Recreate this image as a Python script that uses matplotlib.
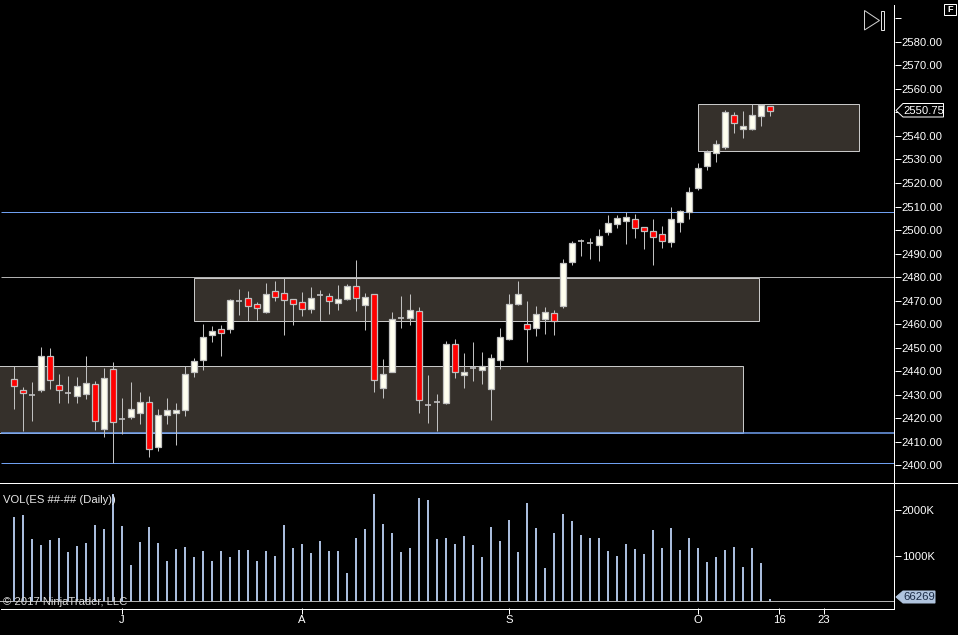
import matplotlib
matplotlib.use("Agg")
import matplotlib.pyplot as plt
from matplotlib.patches import Rectangle, Polygon

plt.rcParams['font.family'] = ['Liberation Sans', 'DejaVu Sans']

# high, body top, body bottom, low; direction: R down, W up, D doji
high = [2442,2433.25,2435.25,2450.25,2449.75,2438.75,2437.75,2437.5,2446.5,2435.75,2441.25,2443.75,2428.5,2435.25,2431,2429.5,2423.75,2428.5,2426.5,2442,2445.5,2460,2459,2459.5,2470.5,2475,2474,2469.5,2477.5,2478.25,2479.5,2470.5,2473.5,2475.75,2474.5,2473.25,2476.5,2477,2487.25,2473.25,2472.75,2445,2465,2472,2472.75,2467.25,2438.25,2430.25,2452.75,2453.5,2447.75,2452.25,2448,2447.25,2458.25,2472.75,2478.25,2469.75,2467.75,2467.25,2466,2487.75,2495.25,2496.25,2496.5,2500.5,2506.5,2506.5,2507.75,2506.75,2501.25,2504.75,2501.75,2509.75,2508.5,2518.25,2528.5,2534,2538.25,2551,2550.25,2550.5,2553.5,2553.5,2552.75]
body_top = [2436.75,2432,2429.75,2446.25,2446.25,2434.25,2430.5,2433.5,2435,2434.5,2437,2440.75,2419.5,2423.75,2426.75,2426.75,2421.25,2423.5,2423.5,2438.75,2444.25,2454.5,2457,2458,2470.25,2469.75,2471,2468.5,2472.75,2474,2473.25,2470.5,2469.5,2471,2472.25,2472,2470.5,2476.25,2476.25,2471.5,2472.75,2438.75,2462,2462.5,2466,2465.5,2425.5,2426.75,2451.5,2451.5,2439.5,2441.25,2442,2445.5,2454.5,2468.5,2472.75,2460,2464.25,2465,2464.75,2486,2494.5,2495.25,2494.5,2497.5,2503,2505,2505.5,2504.75,2501.25,2499.5,2498.25,2504.75,2508,2516.25,2526.5,2533.25,2536.5,2550.25,2549,2544.25,2549,2553.25,2552.75]
body_bottom = [2433.75,2430.5,2429.75,2432,2436,2432,2430.5,2429.5,2430.25,2418.75,2415.25,2418.25,2419.5,2420.5,2422,2406.75,2407.75,2421.25,2422,2423.5,2439.5,2444.75,2455.25,2456.25,2458,2469.75,2467.75,2466.75,2465,2471.5,2470.25,2468.5,2466.5,2466.5,2472.25,2469.75,2469,2470.5,2471,2468,2436.25,2432.75,2439.5,2462.5,2462.5,2427.75,2425.5,2426.75,2426.5,2439.5,2438.25,2441.25,2440.5,2432.25,2444.75,2453.5,2468.5,2458,2458.25,2462,2461.25,2467.75,2486.5,2495.25,2494.5,2493.5,2499,2502.5,2503.75,2501,2499.5,2497,2495.25,2495,2503.5,2507.75,2518,2527.25,2532.75,2535.25,2545.5,2543,2543,2548.5,2550.75]
low = [2423.75,2414.5,2418.75,2431,2432.25,2426.5,2426.5,2426.5,2428,2415,2412,2400.75,2413.25,2419.5,2417.5,2403.5,2406,2417.5,2408.5,2421,2437.5,2440.5,2452.25,2446.5,2456.25,2463.75,2461.25,2461.75,2464.75,2469.75,2455.25,2459.5,2463.5,2464.75,2461.25,2464.25,2466,2470.25,2465.5,2457.5,2431,2428.5,2439.5,2458.25,2459.5,2422,2418,2414.5,2426,2437,2432.75,2435.75,2434.5,2419,2441,2453.25,2468,2443.75,2455,2455.75,2455.25,2466.75,2485,2489,2487.75,2486.75,2498,2501,2494,2496.5,2492,2485,2492.25,2492.75,2499,2504.75,2517,2525.5,2529,2534.5,2541.25,2539,2542.5,2544.25,2548.5]
direction = list("RRDWRRDWWRWRDWWRWWWWWWWRWDRRWRRRRWDRWWRWRWWDWRDDWRWDWWWWWRWWRWWDDWWWWRRRRWWWWWWWRWWWR")
volume_k = [1841,1884,1362,1232,1341,1384,1080,1210,1275,1667,1580,2341,1645,797,1297,1623,1275,884,1145,1188,971,1101,884,1101,971,1123,1123,884,1101,993,1667,1167,1254,1058,1319,1101,1101,623,1384,1580,2341,1688,1493,1080,1167,2254,2210,1362,1384,1254,1428,1232,971,1623,1319,1775,1080,2145,1601,732,1493,1906,1754,1449,1384,1384,1101,993,1254,1145,1036,1558,1167,1601,1123,1384,1167,862,971,1123,1188,754,1167,841,66.269]

price_ticks = list(range(2400, 2600, 10))
hidden_price_labels = [2550, 2590]
volume_ticks = [1000, 2000]
date_tick_pos = [12, 32, 55, 76, 85, 90]
date_tick_labels = ['J', 'A', 'S', 'O', '16', '23']

blue_levels = [2507.66, 2413.75, 2400.75]
grey_levels = [2480]
# zones: first bar, last bar, low price, high price
zones = [(-3, 81, 2413.75, 2442.25), (20, 82.8, 2461.25, 2479.75), (76, 93.9, 2533.75, 2553.5)]

W, H = 958, 635
FONT = 8.1
PX = 0.72
bars = range(len(high))
fig = plt.figure(figsize=(W/100, H/100), dpi=100, facecolor='black')

def pane(y0, y1):
    a = fig.add_axes([0, 1 - y1/H, 894.5/W, (y1 - y0)/H], facecolor='black')
    for s in a.spines.values():
        s.set_visible(False)
    a.set_xlim(-14/9, 880.5/9)
    a.yaxis.tick_right()
    a.tick_params(axis='both', colors='white', labelcolor='white', labelsize=FONT,
                  length=4.3, width=PX, pad=1)
    return a

ax = pane(0, 482)
ax.set_ylim(2392.77, 2597.87)
ax.set_yticks(price_ticks, [f'{p}.00' if p not in hidden_price_labels else '' for p in price_ticks])
ax.set_xticks([])

for x0, x1, y0, y1 in zones:
    ax.add_patch(Rectangle((x0, y0), x1 - x0, y1 - y0, facecolor='#35302b',
                           edgecolor='#c8c8c8', linewidth=PX, zorder=1))
ax.hlines(grey_levels, -1.44, 99, color='#b0b0b0', linewidth=PX, zorder=2)
ax.hlines(blue_levels[0], -1.44, 99, color='#6f9ff0', linewidth=PX, zorder=2)
ax.hlines(blue_levels[1], -1.44, 99, color='#6f9ff0', linewidth=1.1, zorder=2)
ax.hlines(blue_levels[2], -1.44, 99, color='#6f9ff0', linewidth=PX, zorder=2)

wick_col = '#c0c0c0'
ax.vlines(list(bars), low, high, color=wick_col, linewidth=PX, zorder=3)
for i in bars:
    if direction[i] == 'D':
        ax.hlines(body_top[i], i - 0.36, i + 0.36, color=wick_col, linewidth=1.2, zorder=4)
    else:
        ax.bar(i, body_top[i] - body_bottom[i], bottom=body_bottom[i], width=0.66,
               color='#ff0000' if direction[i] == 'R' else '#fffff0',
               edgecolor=wick_col, linewidth=0.9, zorder=4)

vx = pane(483, 608)
vx.set_ylim(-137, 2580)
vx.set_yticks(volume_ticks, [f'{v}K' for v in volume_ticks])
vx.set_xticks(date_tick_pos, date_tick_labels)
base = 26
vx.bar(list(bars), [v - base for v in volume_k], bottom=base, width=0.25,
       color='#a9bcdc', linewidth=0, zorder=2)
vx.axhline(base, color='#b0b0b0', linewidth=PX, zorder=3)

# overlay in pixel coordinates for the frame and the platform furniture
ov = fig.add_axes([0, 0, 1, 1], facecolor='none')
ov.set_xlim(0, W)
ov.set_ylim(H, 0)
ov.axis('off')
ov.plot([0, W], [482.5, 482.5], color='white', lw=PX)
ov.plot([1, 894.5], [608.5, 608.5], color='white', lw=PX)
ov.plot([894.5, 894.5], [5, 608.5], color='white', lw=PX)

ov.text(3, 500, 'VOL(ES ##-## (Daily))', color='#e8e8e8', fontsize=FONT, va='center')
ov.text(3, 602, '© 2017 NinjaTrader, LLC', color='#d8d8d8', fontsize=FONT, va='center', zorder=6)

# last price marker
ov.add_patch(Polygon([(896, 110.5), (903, 103.5), (943.5, 103.5), (943.5, 117), (903, 117)],
                     closed=True, facecolor='black', edgecolor='white', lw=PX, zorder=6))
ov.text(903, 110.5, '2550.75', color='white', fontsize=FONT, va='center', zorder=7)
# last volume marker
ov.add_patch(Polygon([(896, 597), (903, 591), (935, 591), (935, 603), (903, 603)],
                     closed=True, facecolor='#b0c4de', edgecolor='#b0c4de', lw=PX, zorder=6))
ov.text(903, 597.5, '66269', color='#1a2a44', fontsize=FONT, va='center', zorder=7)
# F button
ov.add_patch(Rectangle((944.5, 3.5), 12, 11, facecolor='black', edgecolor='white', lw=PX))
ov.text(950.5, 9.3, 'F', color='white', fontsize=6.5, fontweight='bold', ha='center', va='center')
# play-to-end icon
ov.add_patch(Polygon([(864.5, 10.5), (864.5, 30), (879.5, 20.5)], closed=True,
                     facecolor='none', edgecolor='#d0d0d0', lw=PX))
ov.add_patch(Rectangle((881.5, 10.5), 3, 19.5, facecolor='none', edgecolor='#e0e0e0', lw=PX))

fig.savefig('out.png', dpi=100, facecolor='black')
